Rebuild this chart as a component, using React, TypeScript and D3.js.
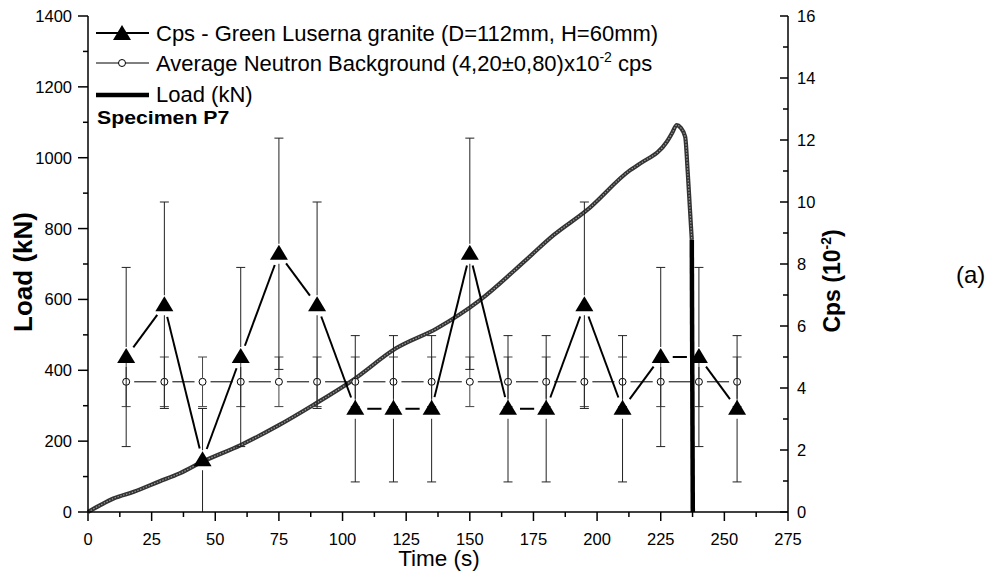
import React from "react";
import * as d3 from "d3";

const cpsTime = [15, 30, 45, 60, 75, 90, 105, 120, 135, 150, 165, 180, 195, 210, 225, 240, 255];
const cpsValue = [5.0, 6.67, 1.67, 5.0, 8.33, 6.67, 3.33, 3.33, 3.33, 8.33, 3.33, 3.33, 6.67, 3.33, 5.0, 5.0, 3.33];
const cpsError = [2.89, 3.33, 1.67, 2.89, 3.73, 3.33, 2.36, 2.36, 2.36, 3.73, 2.36, 2.36, 3.33, 2.36, 2.89, 2.89, 2.36];
const bgValue = [4.2, 4.2, 4.2, 4.2, 4.2, 4.2, 4.2, 4.2, 4.2, 4.2, 4.2, 4.2, 4.2, 4.2, 4.2, 4.2, 4.2];
const bgError = [0.8, 0.8, 0.8, 0.8, 0.8, 0.8, 0.8, 0.8, 0.8, 0.8, 0.8, 0.8, 0.8, 0.8, 0.8, 0.8, 0.8];

const loadTime = [0, 5, 10, 18, 28, 36, 45, 60, 75, 88.5, 104, 121, 137, 154, 172, 183, 196, 213, 217, 227.4, 229.5, 231.3, 232.8, 234.6, 235.6, 236.5, 237.2];
const loadValue = [0, 20, 38, 57, 86, 109, 142, 189, 245, 302, 372, 462, 518, 598, 711, 782, 852, 965, 984, 1045, 1070, 1092, 1085, 1059, 960, 852, 768];
const dropTime = [237.2, 237.6];
const dropValue = [768, 0];

const xTicks = [0, 25, 50, 75, 100, 125, 150, 175, 200, 225, 250, 275];
const loadTicks = [0, 200, 400, 600, 800, 1000, 1200, 1400];
const cpsTicks = [0, 2, 4, 6, 8, 10, 12, 14, 16];

const legendCps = "Cps - Green Luserna granite (D=112mm, H=60mm)";
const legendBgMain = "Average Neutron Background (4,20\u00b10,80)x10";
const legendBgSup = "-2";
const legendBgTail = " cps";
const legendLoad = "Load (kN)";

const FONT = "Liberation Sans, Arial, sans-serif";

export default function App() {
  const x = d3.scaleLinear().domain([0, 275]).range([88, 788]);
  const yL = d3.scaleLinear().domain([0, 1400]).range([512, 16]);
  const yC = d3.scaleLinear().domain([0, 16]).range([512, 16]);

  const loadLine = d3
    .line<number>()
    .x((_, i) => x(loadTime[i]))
    .y((d) => yL(d))
    .curve(d3.curveMonotoneX);
  const dropLine = d3
    .line<number>()
    .x((_, i) => x(dropTime[i]))
    .y((d) => yL(d));

  const gapSegs = (vals: number[], gap: number) => {
    const segs: string[] = [];
    for (let i = 0; i < vals.length - 1; i++) {
      const x1 = x(cpsTime[i]), y1 = yC(vals[i]);
      const x2 = x(cpsTime[i + 1]), y2 = yC(vals[i + 1]);
      const dx = x2 - x1, dy = y2 - y1;
      const len = Math.hypot(dx, dy);
      if (len <= 2 * gap) continue;
      const ux = dx / len, uy = dy / len;
      segs.push(`M${x1 + ux * gap},${y1 + uy * gap}L${x2 - ux * gap},${y2 - uy * gap}`);
    }
    return segs;
  };

  const tri = (cx: number, cy: number) =>
    `M${cx},${cy - 9}L${cx + 9},${cy + 6}L${cx - 9},${cy + 6}Z`;

  const xMinor = d3.range(0, 275.01, 12.5);
  const lMinor = d3.range(0, 1400.01, 100);
  const cMinor = d3.range(0, 16.01, 1);

  return (
    <svg
      width={1001}
      height={577}
      style={{ position: "absolute", left: 0, top: 0, background: "#fff" }}
      fontFamily={FONT}
    >
      {/* load curve */}
      <path d={loadLine(loadValue) || ""} fill="none" stroke="#333" strokeWidth={4.2} strokeLinejoin="round" />
      <path d={loadLine(loadValue) || ""} fill="none" stroke="#9a9a9a" strokeWidth={1.2} strokeDasharray="1.5 1.5" />
      <path d={dropLine(dropValue) || ""} fill="none" stroke="#000" strokeWidth={4.5} />

      {/* background error bars */}
      {cpsTime.map((t, i) => {
        const cx = x(t);
        const cy = yC(bgValue[i]);
        const top = yC(bgValue[i] + bgError[i]);
        const bot = yC(bgValue[i] - bgError[i]);
        return (
          <g key={"bge" + i} stroke="#444" strokeWidth={1}>
            <line x1={cx} x2={cx} y1={cy - 4} y2={top} />
            <line x1={cx} x2={cx} y1={cy + 4} y2={bot} />
            <line x1={cx - 4.5} x2={cx + 4.5} y1={top} y2={top} />
            <line x1={cx - 4.5} x2={cx + 4.5} y1={bot} y2={bot} />
          </g>
        );
      })}
      {/* background line */}
      {gapSegs(bgValue, 8).map((d, i) => (
        <path key={"bgl" + i} d={d} stroke="#000" strokeWidth={1} fill="none" />
      ))}
      {cpsTime.map((t, i) => (
        <circle key={"bgc" + i} cx={x(t)} cy={yC(bgValue[i])} r={3.5} fill="#fff" stroke="#000" strokeWidth={1} />
      ))}

      {/* cps error bars */}
      {cpsTime.map((t, i) => {
        const cx = x(t);
        const cy = yC(cpsValue[i]);
        const hi = cpsValue[i] + cpsError[i];
        const lo = Math.max(0, cpsValue[i] - cpsError[i]);
        const top = yC(hi);
        const bot = yC(lo);
        return (
          <g key={"ce" + i} stroke="#222" strokeWidth={1}>
            <line x1={cx} x2={cx} y1={cy - 10} y2={top} />
            <line x1={cx} x2={cx} y1={cy + 10} y2={bot} />
            <line x1={cx - 4.5} x2={cx + 4.5} y1={top} y2={top} />
            {lo > 0 && <line x1={cx - 4.5} x2={cx + 4.5} y1={bot} y2={bot} />}
          </g>
        );
      })}
      {/* cps line */}
      {gapSegs(cpsValue, 12).map((d, i) => (
        <path key={"cl" + i} d={d} stroke="#000" strokeWidth={2} fill="none" />
      ))}
      {cpsTime.map((t, i) => (
        <path key={"ct" + i} d={tri(x(t), yC(cpsValue[i]))} fill="#000" />
      ))}

      {/* axes */}
      <g stroke="#000" strokeWidth={1.5} fill="none">
        <line x1={88} x2={788} y1={512} y2={512} />
        <line x1={88} x2={88} y1={16} y2={512} />
        <line x1={788} x2={788} y1={16} y2={512} />
        {xMinor.map((v) => {
          const major = Math.abs(v % 25) < 1e-6;
          return <line key={"xt" + v} x1={x(v)} x2={x(v)} y1={512} y2={major ? 521 : 517} />;
        })}
        {lMinor.map((v) => {
          const major = Math.abs(v % 200) < 1e-6;
          return <line key={"lt" + v} x1={major ? 78 : 83} x2={88} y1={yL(v)} y2={yL(v)} />;
        })}
        {cMinor.map((v) => {
          const major = v % 2 === 0;
          return <line key={"rt" + v} x1={major ? 780 : 783} x2={788} y1={yC(v)} y2={yC(v)} />;
        })}
      </g>
      <g fontSize={16.5} fill="#000">
        {xTicks.map((v) => (
          <text key={"xl" + v} x={x(v)} y={545} textAnchor="middle">{v}</text>
        ))}
        {loadTicks.map((v) => (
          <text key={"ll" + v} x={72} y={yL(v) + 6} textAnchor="end">{v}</text>
        ))}
        {cpsTicks.map((v) => (
          <text key={"cl" + v} x={797} y={yC(v) + 6} textAnchor="start">{v}</text>
        ))}
      </g>

      {/* axis titles */}
      <text x={439} y={566} textAnchor="middle" fontSize={22.5}>Time (s)</text>
      <text transform="translate(32,272) rotate(-90)" textAnchor="middle" fontSize={26} fontWeight="bold">Load (kN)</text>
      <text transform="translate(840,281) rotate(-90)" textAnchor="middle" fontSize={23} fontWeight="bold">
        Cps (10<tspan fontSize={14} dy={-9}>-2</tspan><tspan dy={9}>)</tspan>
      </text>
      <text x={956} y={283} fontSize={24}>(a)</text>
      <text x={97} y={124} fontSize={18.5} fontWeight="bold" transform="translate(97,0) scale(1.15,1) translate(-97,0)">Specimen P7</text>

      {/* legend */}
      <g>
        <line x1={96} x2={149} y1={33} y2={33} stroke="#000" strokeWidth={2} />
        <path d={tri(122, 34)} fill="#000" />
        <text x={156} y={41} fontSize={22}>{legendCps}</text>
        <line x1={96} x2={149} y1={63} y2={63} stroke="#000" strokeWidth={1} />
        <circle cx={122} cy={63} r={3.5} fill="#fff" stroke="#000" />
        <text x={156} y={71} fontSize={22}>
          {legendBgMain}
          <tspan fontSize={14} dy={-9}>{legendBgSup}</tspan>
          <tspan dy={9}>{legendBgTail}</tspan>
        </text>
        <line x1={96} x2={149} y1={95} y2={95} stroke="#000" strokeWidth={4.5} />
        <text x={156} y={102} fontSize={22}>{legendLoad}</text>
      </g>
    </svg>
  );
}
